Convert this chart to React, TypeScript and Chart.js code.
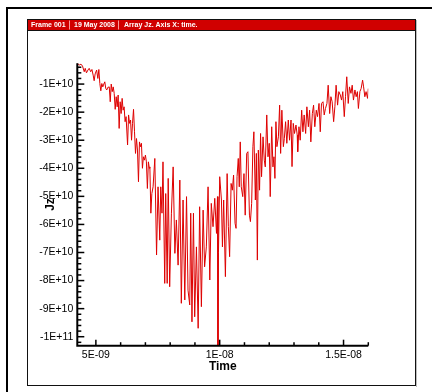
import React, { useEffect, useRef } from "react";
import { Chart, registerables } from "chart.js";

Chart.register(...registerables);

// Time in ns (axis labels show seconds), Jz in units of 1E+10
const timeNs = [
  4.25, 4.33, 4.40, 4.46, 4.53, 4.57, 4.62, 4.68, 4.73, 4.79, 4.84, 4.89, 4.93, 4.97, 5.03, 5.08, 5.12, 5.16, 5.20, 5.24,
  5.28, 5.32, 5.36, 5.40, 5.44, 5.48, 5.54, 5.58, 5.62, 5.66, 5.70, 5.74, 5.78, 5.82, 5.86, 5.90, 5.94, 5.98, 6.02, 6.06,
  6.10, 6.14, 6.18, 6.22, 6.28, 6.32, 6.36, 6.40, 6.44, 6.48, 6.52, 6.56, 6.60, 6.64, 6.68, 6.72, 6.76, 6.80, 6.84, 6.88,
  6.92, 6.96, 7.00, 7.04, 7.08, 7.12, 7.16,
  7.18, 7.22, 7.26, 7.31, 7.38, 7.45, 7.51, 7.58, 7.62, 7.67, 7.71, 7.78, 7.82, 7.88, 7.92, 7.98, 8.05, 8.12, 8.19, 8.25,
  8.32, 8.39, 8.45, 8.52, 8.59, 8.66, 8.72, 8.79, 8.83, 8.88, 8.94, 8.99, 9.06, 9.13, 9.19, 9.26, 9.33, 9.39, 9.46, 9.53,
  9.60, 9.66, 9.73, 9.80, 9.87, 9.91, 9.93, 9.95, 10.00, 10.07, 10.11,
  10.16, 10.23, 10.30, 10.35, 10.40, 10.46, 10.51, 10.56, 10.62, 10.66, 10.70, 10.75, 10.79, 10.83, 10.87, 10.93, 10.98, 11.03, 11.09, 11.14,
  11.20, 11.24, 11.29, 11.34, 11.38, 11.44, 11.48, 11.52, 11.56, 11.61, 11.65, 11.69, 11.75, 11.80, 11.84, 11.90, 11.95, 12.00, 12.04, 12.10,
  12.15, 12.19, 12.23, 12.27, 12.31, 12.37, 12.42, 12.46, 12.51, 12.57, 12.61, 12.66, 12.71, 12.77, 12.82, 12.88, 12.92, 12.97, 13.02, 13.08,
  13.13,
  13.15, 13.20, 13.25, 13.31, 13.36, 13.41, 13.47, 13.52, 13.58, 13.63, 13.68, 13.74, 13.79, 13.84, 13.90, 13.95, 14.01, 14.06, 14.11, 14.17,
  14.22, 14.27, 14.33, 14.38, 14.44, 14.49, 14.54, 14.60, 14.65, 14.70, 14.76, 14.81, 14.87, 14.92, 14.97, 15.03, 15.08, 15.13, 15.19, 15.24,
  15.30, 15.35, 15.40, 15.46, 15.51, 15.56, 15.60, 15.66, 15.71, 15.77, 15.81, 15.86, 15.91, 15.97, 16.00,
];

const jzE10 = [
  -0.26, -0.32, -0.29, -0.36, -0.56, -0.44, -0.60, -0.50, -0.44, -0.56, -0.48, -0.68, -0.88, -0.64, -0.50, -0.80, -0.48, -0.98, -1.24, -0.98,
  -1.10, -1.00, -0.92, -1.16, -1.21, -1.12, -1.10, -1.63, -1.00, -1.27, -1.10, -1.33, -1.90, -1.45, -1.81, -1.39, -2.58, -1.63, -2.05, -1.51,
  -1.93, -1.81, -2.34, -2.16, -3.17, -2.10, -2.40, -2.28, -3.00, -2.40, -1.90, -2.70, -3.47, -2.94, -3.35, -4.48, -3.06, -3.23, -3.11, -4.00,
  -3.59, -3.71, -3.53, -3.77, -4.72, -3.77, -4.00,
  -3.95, -5.60, -4.90, -4.66, -3.65, -7.09, -4.66, -6.56, -4.66, -5.60, -3.77, -8.10, -4.90, -8.10, -4.36, -8.22, -5.60, -3.95, -7.03, -5.84,
  -7.45, -4.42, -8.81, -5.13, -8.69, -5.01, -8.34, -8.87, -5.60, -9.47, -5.60, -9.29, -6.80, -9.70, -5.37, -8.93, -5.49, -7.51, -6.80, -4.66,
  -7.98, -5.25, -6.08, -5.07, -6.32, -5.01, -10.32, -7.00, -4.30, -5.13, -6.80,
  -5.13, -7.86, -4.19, -6.08, -7.15, -4.54, -4.78, -4.24, -5.96, -6.14, -4.30, -3.65, -4.66, -3.06, -4.66, -5.01, -4.19, -5.67, -3.47, -3.41,
  -5.67, -5.90, -5.25, -3.23, -2.70, -5.13, -3.47, -7.27, -3.35, -4.78, -2.76, -4.30, -2.88, -3.71, -3.95, -2.10, -3.59, -3.11, -5.01, -2.52,
  -3.95, -3.59, -4.36, -2.34, -3.23, -2.88, -1.75, -3.47, -1.93, -3.23, -2.94, -2.34, -3.11, -2.28, -3.00, -2.28, -3.94, -2.40, -2.76, -2.46,
  -2.82,
  -3.41, -2.52, -3.00, -1.93, -2.70, -2.10, -2.76, -1.81, -2.52, -1.93, -3.06, -2.05, -1.75, -2.52, -1.93, -2.16, -1.69, -2.70, -1.69, -1.63,
  -2.10, -1.87, -1.69, -1.04, -2.05, -1.45, -1.63, -2.34, -1.81, -1.04, -1.75, -1.27, -1.39, -1.57, -1.27, -2.16, -1.45, -0.74, -1.69, -1.10,
  -1.33, -1.04, -1.57, -1.21, -1.45, -1.27, -1.87, -1.27, -1.16, -0.86, -1.10, -1.45, -1.27, -1.51, -1.16,
];

const xTickValues = [5, 10, 15];
const xTickLabels = ["5E-09", "1E-08", "1.5E-08"];
const yTickValues = [-1, -2, -3, -4, -5, -6, -7, -8, -9, -10];
const yTickLabels = ["-1E+10", "-2E+10", "-3E+10", "-4E+10", "-5E+10", "-6E+10", "-7E+10", "-8E+10", "-9E+10", "-1E+11"];
const headerParts = ["Frame 001", "19 May 2008", "Array Jz. Axis X: time."];
const xTitle = "Time";
const yTitle = "Jz";

const X_MIN = 4.25;
const X_MAX = 16.0;
const Y_MIN = -10.32;
const Y_MAX = -0.26;
const X_MINOR_STEP = 1;
const Y_MINOR_STEP = 0.2;

const FONT = '"Liberation Sans", Arial, Helvetica, sans-serif';

const framePlugin = {
  id: "tecplotFrame",
  beforeDraw(chart: any) {
    const ctx = chart.ctx;
    ctx.save();
    // outer window edge
    ctx.fillStyle = "#000";
    ctx.fillRect(6, 7, 426, 2);
    ctx.fillRect(6, 7, 2, 385);
    // shadow
    ctx.strokeStyle = "#bdbdbd";
    ctx.lineWidth = 1;
    ctx.beginPath();
    ctx.moveTo(416.5, 20);
    ctx.lineTo(416.5, 387);
    ctx.stroke();
    // inner frame
    ctx.strokeStyle = "#111";
    ctx.lineWidth = 1;
    ctx.strokeRect(27.5, 19.5, 388, 366);
    // header
    ctx.fillStyle = "rgb(208,0,0)";
    ctx.fillRect(28, 20, 387, 10);
    ctx.beginPath();
    ctx.moveTo(27.5, 30.5);
    ctx.lineTo(415.5, 30.5);
    ctx.stroke();
    ctx.strokeStyle = "rgba(255,170,170,0.9)";
    [69.5, 118.5].forEach((sx) => {
      ctx.beginPath();
      ctx.moveTo(sx, 20.5);
      ctx.lineTo(sx, 29.5);
      ctx.stroke();
    });
    ctx.fillStyle = "#fff";
    ctx.font = "bold 7px " + FONT;
    ctx.textBaseline = "middle";
    ctx.textAlign = "left";
    const starts = [31, 74, 124];
    headerParts.forEach((t, i) => ctx.fillText(t, starts[i], 25));
    ctx.restore();
  },
  afterDraw(chart: any) {
    const ctx = chart.ctx;
    const xs = chart.scales.x;
    const ys = chart.scales.y;
    const { left, right, top, bottom } = chart.chartArea;
    ctx.save();
    ctx.strokeStyle = "#000";
    // axes lines
    ctx.lineWidth = 2;
    ctx.beginPath();
    ctx.moveTo(left, top);
    ctx.lineTo(left, bottom);
    ctx.lineTo(right, bottom);
    ctx.stroke();
    // x ticks (inward)
    ctx.lineWidth = 1.5;
    for (let v = Math.ceil(X_MIN); v <= X_MAX + 1e-9; v += X_MINOR_STEP) {
      const px = xs.getPixelForValue(v);
      const major = xTickValues.some((m) => Math.abs(m - v) < 1e-6);
      ctx.beginPath();
      ctx.moveTo(px, bottom);
      ctx.lineTo(px, bottom - (major ? 6 : 3.5));
      ctx.stroke();
    }
    // y ticks (inward)
    for (let i = Math.ceil(Y_MIN / Y_MINOR_STEP); i * Y_MINOR_STEP <= Y_MAX + 1e-9; i++) {
      const v = i * Y_MINOR_STEP;
      const py = ys.getPixelForValue(v);
      const major = yTickValues.some((m) => Math.abs(m - v) < 1e-6);
      ctx.beginPath();
      ctx.moveTo(left, py);
      ctx.lineTo(left + (major ? 7 : 4), py);
      ctx.stroke();
    }
    ctx.restore();
  },
};

export default function App() {
  const canvasRef = useRef<HTMLCanvasElement | null>(null);

  useEffect(() => {
    if (!canvasRef.current) return;
    const points = timeNs.map((t, i) => ({ x: t, y: jzE10[i] }));
    const chart = new Chart(canvasRef.current, {
      type: "line",
      data: {
        datasets: [
          {
            data: points,
            borderColor: "rgb(222,0,0)",
            borderWidth: 1,
            pointRadius: 0,
            tension: 0,
            fill: false,
          },
        ],
      },
      options: {
        responsive: false,
        animation: false,
        devicePixelRatio: 1,
        layout: { padding: { left: 27.3, right: 63.7, top: 63.3, bottom: 16.3 } },
        plugins: {
          legend: { display: false },
          tooltip: { enabled: false },
          title: { display: false },
        },
        scales: {
          x: {
            type: "linear",
            min: X_MIN,
            max: X_MAX,
            afterFit: (s: any) => {
              s.height = 30;
            },
            afterBuildTicks: (s: any) => {
              s.ticks = xTickValues.map((v) => ({ value: v }));
            },
            grid: { display: false, drawTicks: false, tickLength: 0 },
            border: { display: false },
            ticks: {
              padding: 3,
              color: "#000",
              maxRotation: 0,
              autoSkip: false,
              font: { family: FONT, size: 10.5 },
              callback: (v: any) => {
                const i = xTickValues.findIndex((m) => Math.abs(m - Number(v)) < 1e-6);
                return i >= 0 ? xTickLabels[i] : "";
              },
            },
            title: {
              display: true,
              text: xTitle,
              color: "#000",
              font: { family: FONT, size: 12, weight: "bold" },
              padding: { top: 0, bottom: 1.5 },
            },
          },
          y: {
            type: "linear",
            min: Y_MIN,
            max: Y_MAX,
            afterFit: (s: any) => {
              s.width = 50;
            },
            afterBuildTicks: (s: any) => {
              s.ticks = yTickValues.map((v) => ({ value: v }));
            },
            grid: { display: false, drawTicks: false, tickLength: 0 },
            border: { display: false },
            ticks: {
              padding: 4,
              color: "#000",
              autoSkip: false,
              font: { family: FONT, size: 10.5 },
              callback: (v: any) => {
                const i = yTickValues.findIndex((m) => Math.abs(m - Number(v)) < 1e-6);
                return i >= 0 ? yTickLabels[i] : "";
              },
            },
            title: {
              display: true,
              text: yTitle,
              color: "#000",
              font: { family: FONT, size: 12, weight: "bold" },
              padding: { top: 16, bottom: 0 },
            },
          },
        },
      } as any,
      plugins: [framePlugin],
    });
    return () => chart.destroy();
  }, []);

  return (
    <div style={{ position: "absolute", left: 0, top: 0, width: 432, height: 392, background: "#fff" }}>
      <canvas ref={canvasRef} width={432} height={392} style={{ display: "block", width: 432, height: 392 }} />
    </div>
  );
}
